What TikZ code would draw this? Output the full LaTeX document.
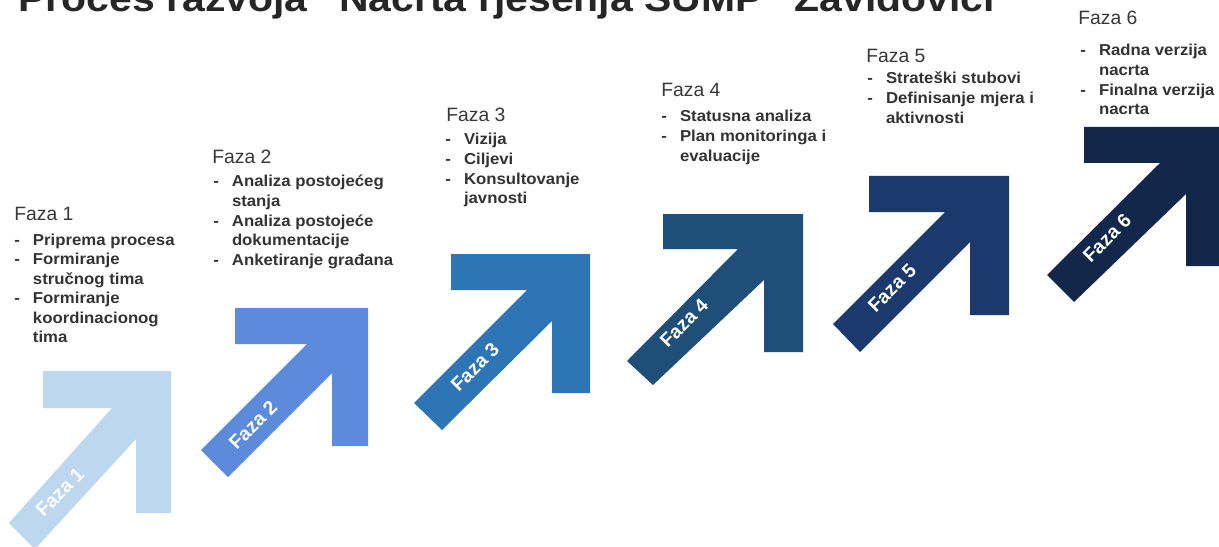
\documentclass[tikz,border=0pt]{standalone}
\usepackage{fontspec}
\setmainfont{Liberation Sans}
\definecolor{aone}{HTML}{BDD7EE}
\definecolor{atwo}{HTML}{5B8BDA}
\definecolor{athree}{HTML}{2E75B6}
\definecolor{afour}{HTML}{1F4E79}
\definecolor{afive}{HTML}{1B396D}
\definecolor{asix}{HTML}{13274B}
\definecolor{headgray}{HTML}{383838}
\definecolor{itemgray}{HTML}{333333}
\definecolor{titlegray}{HTML}{262626}
\begin{document}
\begin{tikzpicture}[x=0.02cm,y=-0.02cm,
  head/.style={anchor=base west, inner sep=0pt, text=headgray, font=\fontsize{11}{13}\selectfont},
  items/.style={anchor=base west, inner sep=0pt, text=itemgray, font=\fontsize{9}{11.1}\selectfont\bfseries, xscale=1.06},
  lbl/.style={text=white, font=\fontsize{11}{13}\selectfont\bfseries, rotate=45, inner sep=0pt},
  titlestyle/.style={anchor=base west, inner sep=0pt, text=titlegray, font=\fontsize{21}{25}\selectfont\bfseries, xscale=1.11}]
\useasboundingbox (0,0) rectangle (1219,547);
\clip (0,0) rectangle (1219,547);
\fill[white] (0,0) rectangle (1219,547);

% title (cut off at the top)
\node[titlestyle] (title) at (18,12) {Proces razvoja "Nacrta rješenja SUMP" Zavidovići};

% arrows
\fill[aone]   (43,371) -- (171,371) -- (171,513) -- (136,513) -- (136,439) -- (35,549) -- (9,523) -- (112,408) -- (43,408) -- cycle;
\fill[atwo]   (235,308) -- (368,308) -- (368,446) -- (332,446) -- (332,373) -- (228,477) -- (201,450) -- (307,344) -- (235,344) -- cycle;
\fill[athree] (451,254) -- (590,254) -- (590,393) -- (552,393) -- (552,321) -- (442,430) -- (414,403) -- (527,290) -- (451,290) -- cycle;
\fill[afour]  (663,214) -- (803,214) -- (803,352) -- (764,352) -- (764,280) -- (653,385) -- (627,361) -- (738,249) -- (663,249) -- cycle;
\fill[afive]  (869,176) -- (1009,176) -- (1009,315) -- (970,315) -- (970,242) -- (860,352) -- (833,324) -- (945,212) -- (869,212) -- cycle;
\fill[asix]   (1084,127) -- (1224,127) -- (1224,266) -- (1186,266) -- (1186,194) -- (1074,302) -- (1047,275) -- (1160,163) -- (1084,163) -- cycle;

% arrow labels
\node[lbl] (l1) at (60,492) {Faza 1};
\node[lbl] (l2) at (253,425) {Faza 2};
\node[lbl] (l3) at (475,367) {Faza 3};
\node[lbl] (l4) at (684,323) {Faza 4};
\node[lbl] (l5) at (892,288) {Faza 5};
\node[lbl] (l6) at (1107,238) {Faza 6};

% phase texts
\node[head] (h1) at (14,220) {Faza 1};
\node[items] (i1) at (14,245) {\begin{tabular}[t]{@{}p{10pt}@{}l@{}}
-&Priprema procesa\\ -&Formiranje\\ &stručnog tima\\ -&Formiranje\\ &koordinacionog\\ &tima\end{tabular}};

\node[head] (h2) at (212,164) {Faza 2};
\node[items] (i2) at (213,187) {\begin{tabular}[t]{@{}p{10pt}@{}l@{}}
-&Analiza postojećeg\\ &stanja\\ -&Analiza postojeće\\ &dokumentacije\\ -&Anketiranje građana\end{tabular}};

\node[head] (h3) at (446,122) {Faza 3};
\node[items] (i3) at (445,145) {\begin{tabular}[t]{@{}p{10pt}@{}l@{}}
-&Vizija\\ -&Ciljevi\\ -&Konsultovanje\\ &javnosti\end{tabular}};

\node[head] (h4) at (661,97) {Faza 4};
\node[items] (i4) at (661,122) {\begin{tabular}[t]{@{}p{10pt}@{}l@{}}
-&Statusna analiza\\ -&Plan monitoringa i\\ &evaluacije\end{tabular}};

\node[head] (h5) at (866,63) {Faza 5};
\node[items] (i5) at (867,84) {\begin{tabular}[t]{@{}p{10pt}@{}l@{}}
-&Strateški stubovi\\ -&Definisanje mjera i\\ &aktivnosti\end{tabular}};

\node[head] (h6) at (1078,25) {Faza 6};
\node[items] (i6) at (1080,56) {\begin{tabular}[t]{@{}p{10pt}@{}l@{}}
-&Radna verzija\\ &nacrta\\ -&Finalna verzija\\ &nacrta\end{tabular}};
\end{tikzpicture}
\end{document}
